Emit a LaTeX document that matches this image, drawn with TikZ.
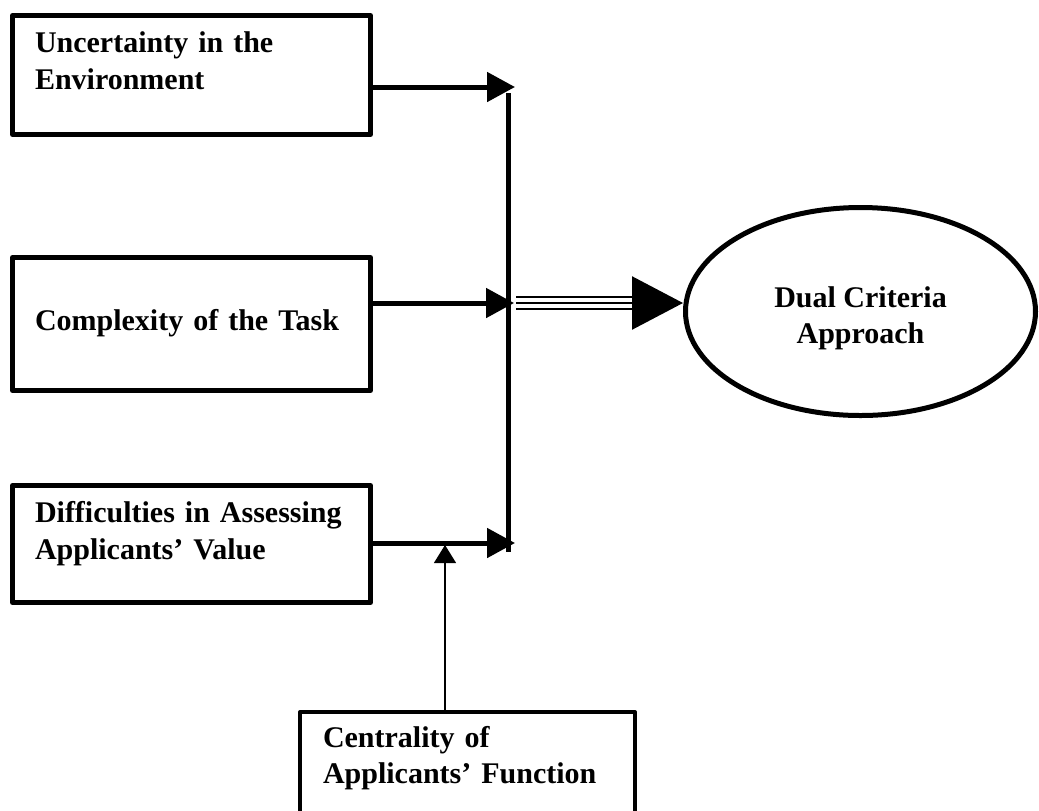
\documentclass[tikz,border=0pt]{standalone}
\usepackage{fontspec}
\setmainfont{Liberation Serif}
\usetikzlibrary{arrows.meta,shapes.geometric}
\tikzset{
  box/.style={draw,line width=2.5pt,line join=round,rectangle,align=left,inner xsep=11.25pt,inner ysep=0pt,text width=156.5pt,font=\bfseries\fontsize{15}{18.5}\selectfont},
  arr/.style={-{Triangle[length=14pt,width=14.5pt]},line width=2.5pt},
  thinarr/.style={-{Triangle[length=9pt,width=11pt]},line width=0.6pt},
  bigarr/.style={-{Triangle[length=25.5pt,width=26.5pt]},line width=1.2pt},
  triple/.style={line width=1.2pt,double distance=4.6pt},
  bar/.style={line width=2.5pt}
}
\begin{document}
\begin{tikzpicture}[x=0.5pt,y=-0.5pt]
  \useasboundingbox (0,0) rectangle (1039,810);
  \clip (0,0) rectangle (1039,810);
  % factor boxes
  \node[box,text height=18.25pt,text depth=41.25pt] (env) at (191.5,75)
    {Uncertainty in the\\Environment};
  \node[box,text height=36.25pt,text depth=30.25pt] (task) at (191.5,324)
    {Complexity of the Task};
  \node[box,text height=18.25pt,text depth=40.25pt] (value) at (191.5,544)
    {Difficulties in Assessing\\Applicants’ Value};
  \node[box,line width=2pt,inner xsep=11.5pt,text width=144.5pt,text height=17.5pt,text depth=42.5pt,
    font=\bfseries\fontsize{15}{18}\selectfont] (central) at (467.5,772)
    {Centrality of\\Applicants’ Function};
  \node[draw,ellipse,line width=2.5pt,minimum width=175pt,minimum height=104pt,inner sep=0pt,
    text height=10pt,text depth=14.5pt,font=\bfseries\fontsize{15}{18}\selectfont] (dual) at (860.5,311.5)
    {\begin{tabular}[t]{@{}c@{}}Dual Criteria\\Approach\end{tabular}};
  % junction points
  \coordinate (t1) at (515,87);
  \coordinate (t2) at (514,303);
  \coordinate (t3) at (515,543);
  \coordinate (bartop) at (508,93);
  \coordinate (barbot) at (508,552);
  \coordinate (j) at (516,303);
  \coordinate (m) at (445,545);
  \draw[bar] (bartop) -- (barbot);
  \draw[arr] (env.east |- t1) -- (t1);
  \draw[arr] (task.east |- t2) -- (t2);
  \draw[arr] (value.east |- t3) -- (t3);
  \draw[thinarr] (m |- central.north) -- (m);
  \draw[triple,shorten >=25pt] (j) -- (j -| dual.west);
  \draw[bigarr] (j) -- (j -| dual.west);
\end{tikzpicture}
\end{document}
